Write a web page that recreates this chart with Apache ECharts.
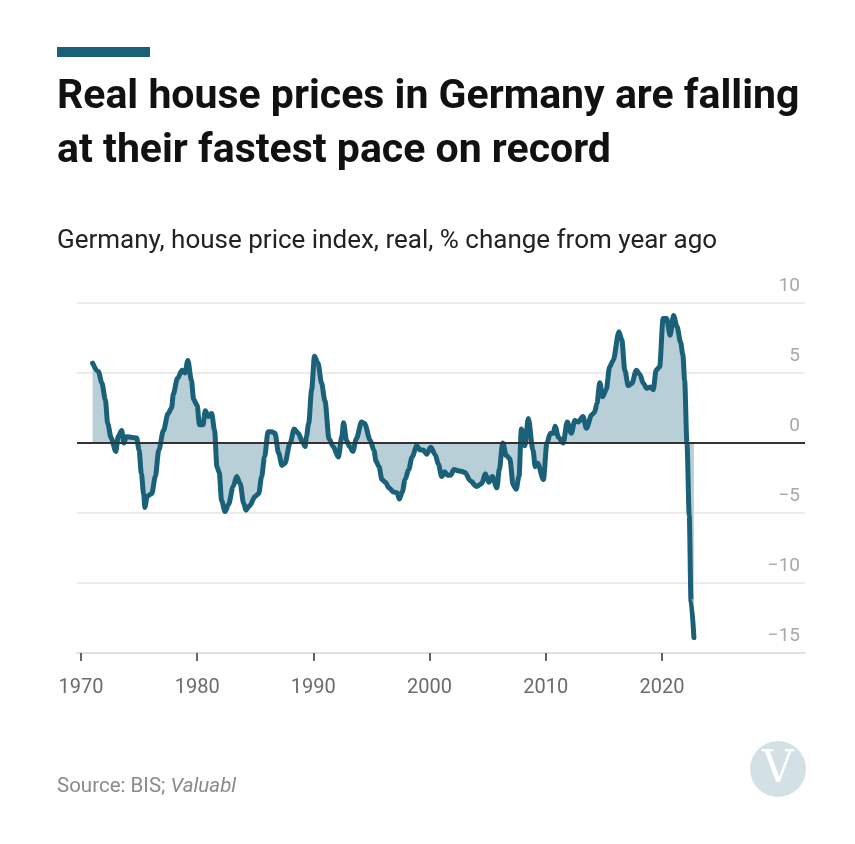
<!DOCTYPE html>
<html>
<head>
<meta charset="utf-8">
<script src="https://cdn.jsdelivr.net/npm/echarts@6/dist/echarts.min.js"></script>
<style>
html,body{margin:0;padding:0;background:#fff;}
#chart{width:855px;height:844px;}
</style>
</head>
<body>
<div id="chart"></div>
<script>
// Decimal year of each observation
var years = [
1971.0,1971.5,1971.8,1972.1,1972.3,1972.6,1973.0,1973.2,1973.5,1973.7,1973.9,1974.4,1974.8,
1975.0,1975.2,1975.4,1975.5,1975.7,1976.1,1976.4,1976.7,1977.1,1977.5,1977.8,1977.95,1978.3,
1978.7,1978.95,1979.2,1979.5,1979.7,1980.0,1980.2,1980.5,1980.7,1980.95,1981.25,1981.5,1981.7,
1981.9,1982.1,1982.4,1982.7,1983.1,1983.4,1983.7,1984.0,1984.2,1984.5,1985.0,1985.3,1985.55,
1985.8,1986.1,1986.4,1986.7,1987.0,1987.3,1987.55,1988.0,1988.35,1988.7,1989.05,1989.3,1989.4,
1989.6,1989.85,1990.1,1990.4,1990.7,1991.0,1991.35,1991.7,1992.15,1992.45,1992.6,1992.85,1993.1,
1993.4,1993.7,1994.15,1994.4,1994.9,1995.2,1995.4,1995.65,1995.9,1996.2,1996.5,1996.9,1997.2,
1997.4,1997.65,1997.9,1998.2,1998.5,1998.9,1999.2,1999.45,1999.75,2000.1,2000.5,2000.75,2001.05,
2001.3,2001.55,2001.8,2002.1,2002.6,2003.05,2003.5,2004.05,2004.5,2004.8,2005.1,2005.4,2005.8,
2006.0,2006.3,2006.6,2006.9,2007.2,2007.45,2007.7,2007.9,2008.2,2008.5,2008.9,2009.1,2009.3,
2009.8,2010.1,2010.4,2010.65,2010.8,2011.1,2011.5,2011.85,2012.2,2012.5,2012.8,2013.2,2013.5,
2013.95,2014.2,2014.4,2014.65,2014.9,2015.2,2015.5,2015.8,2016.3,2016.55,2016.8,2017.1,2017.4,
2017.8,2018.1,2018.4,2018.7,2019.0,2019.25,2019.5,2019.8,2020.1,2020.4,2020.7,2021.0,2021.3,
2021.6,2021.8,2021.95,2022.15,2022.35,2022.5,2022.75
];
// Real house price index, % change from year ago
var values = [
5.7,5.1,4.3,3.1,1.4,0.35,-0.6,0.45,0.9,0.0,0.45,0.4,0.35,
-0.5,-2.2,-3.7,-4.6,-3.8,-3.6,-2.4,-0.5,0.9,2.1,2.5,3.5,4.6,
5.2,5.0,5.9,4.5,3.1,2.7,1.3,1.3,2.3,1.9,2.1,0.9,-1.7,
-2.1,-4.1,-4.9,-4.4,-3.1,-2.4,-2.9,-4.3,-4.8,-4.5,-3.8,-3.6,-2.4,
-1.0,0.8,0.8,0.7,-0.7,-1.6,-1.45,0.0,1.0,0.7,0.1,-0.25,0.45,
1.4,3.8,6.2,5.7,4.3,3.0,0.3,-0.25,-1.0,0.45,1.45,0.2,-0.25,
-0.6,0.3,1.5,1.4,0.2,-0.5,-1.3,-1.7,-2.6,-2.8,-3.2,-3.5,-3.55,
-4.0,-3.5,-2.6,-1.9,-1.0,-0.2,-0.5,-0.5,-0.8,-0.3,-0.85,-1.5,-2.4,
-2.05,-2.3,-2.3,-1.9,-2.0,-2.1,-2.7,-3.1,-2.9,-2.2,-2.8,-2.4,-3.2,
-1.9,0.0,-0.9,-1.1,-3.0,-3.3,-2.4,1.0,-0.2,1.75,-0.5,-1.7,-1.45,
-2.6,0.0,0.7,0.7,1.2,0.4,0.0,1.5,0.7,1.6,1.5,1.9,1.05,
2.0,2.2,2.8,4.3,3.3,3.8,5.45,5.9,7.95,7.35,5.2,4.1,4.25,
5.2,4.9,4.25,3.9,4.0,3.8,5.2,5.45,8.9,8.9,7.7,9.1,8.3,
7.2,6.3,4.5,0.0,-5.2,-11.3,-13.9
];
var xTicks = [1970, 1980, 1990, 2000, 2010, 2020];
var yMin = -15, yMax = 10, yStep = 5;

var seriesData = years.map(function (y, i) { return [y, values[i]]; });

var LINE = '#1b6079';
var chart = echarts.init(document.getElementById('chart'), null, {renderer: 'canvas'});
chart.setOption({
  backgroundColor: '#ffffff',
  animation: false,
  textStyle: {fontFamily: 'Roboto'},
  title: [
    {
      text: 'Real house prices in Germany are falling\nat their fastest pace on record',
      left: 57, top: 71, padding: 0,
      textStyle: {fontFamily: 'Roboto', fontWeight: 'bold', fontSize: 41, lineHeight: 54, color: '#111111'}
    },
    {
      text: 'Germany, house price index, real, % change from year ago',
      left: 57, top: 225, padding: 0,
      textStyle: {fontFamily: 'Roboto', fontWeight: 'normal', fontSize: 26, lineHeight: 32, color: '#222222'}
    },
    {
      text: '{a|Source: BIS; }{b|Valuabl}',
      left: 57, top: 776, padding: 0,
      textStyle: {
        fontWeight: 'normal',
        rich: {
          a: {fontFamily: 'Roboto', fontWeight: 'normal', fontSize: 20.5, color: '#8a8a8a'},
          b: {fontFamily: 'Roboto', fontWeight: 'normal', fontSize: 20.5, color: '#8a8a8a', fontStyle: 'italic'}
        }
      }
    }
  ],
  graphic: [
    {type: 'rect', shape: {x: 57, y: 47, width: 93, height: 10}, style: {fill: LINE}},
    {type: 'circle', shape: {cx: 778, cy: 769, r: 28}, style: {fill: '#d3e0e6'}},
    {type: 'text', x: 778, y: 771, style: {text: 'V', fill: '#ffffff', font: '44px "DejaVu Serif", serif', align: 'center', verticalAlign: 'middle'}}
  ],
  grid: {left: 77, right: 50, top: 303, bottom: 191, containLabel: false},
  xAxis: {
    type: 'value',
    min: 1969.66, max: 2032.31,
    axisLine: {show: true, onZero: false, lineStyle: {color: '#dddddd', width: 1.5}},
    axisTick: {show: true, customValues: xTicks, length: 8, lineStyle: {color: '#333333', width: 1.5}},
    axisLabel: {
      customValues: xTicks, margin: 25, fontSize: 20, color: '#6b6b6b', fontFamily: 'Roboto',
      formatter: function (v) { return String(v); }
    },
    splitLine: {show: false}
  },
  yAxis: {
    type: 'value',
    position: 'right',
    min: yMin, max: yMax, interval: yStep,
    axisLine: {show: false},
    axisTick: {show: false},
    axisLabel: {
      inside: true, margin: 5, fontSize: 19, color: '#a8a8a8', fontFamily: 'Roboto',
      verticalAlign: 'bottom', padding: [0, 0, 7, 0],
      formatter: function (v) { return v < 0 ? '\u2212' + Math.abs(v) : String(v); }
    },
    splitLine: {show: true, lineStyle: {color: '#e6e6e6', width: 1.5}}
  },
  series: [
    {
      type: 'line',
      data: [],
      z: 2,
      silent: true,
      markLine: {
        silent: true, symbol: ['none', 'none'], label: {show: false},
        lineStyle: {color: '#333333', width: 2, type: 'solid'},
        data: [{yAxis: 0}]
      }
    },
    {
      type: 'line',
      data: seriesData,
      z: 3,
      showSymbol: false,
      smooth: 0.3,
      smoothMonotone: 'x',
      lineStyle: {color: LINE, width: 5, cap: 'round', join: 'round'},
      areaStyle: {color: '#b9cfd8', opacity: 1, origin: 0}
    }
  ]
});
</script>
</body>
</html>
